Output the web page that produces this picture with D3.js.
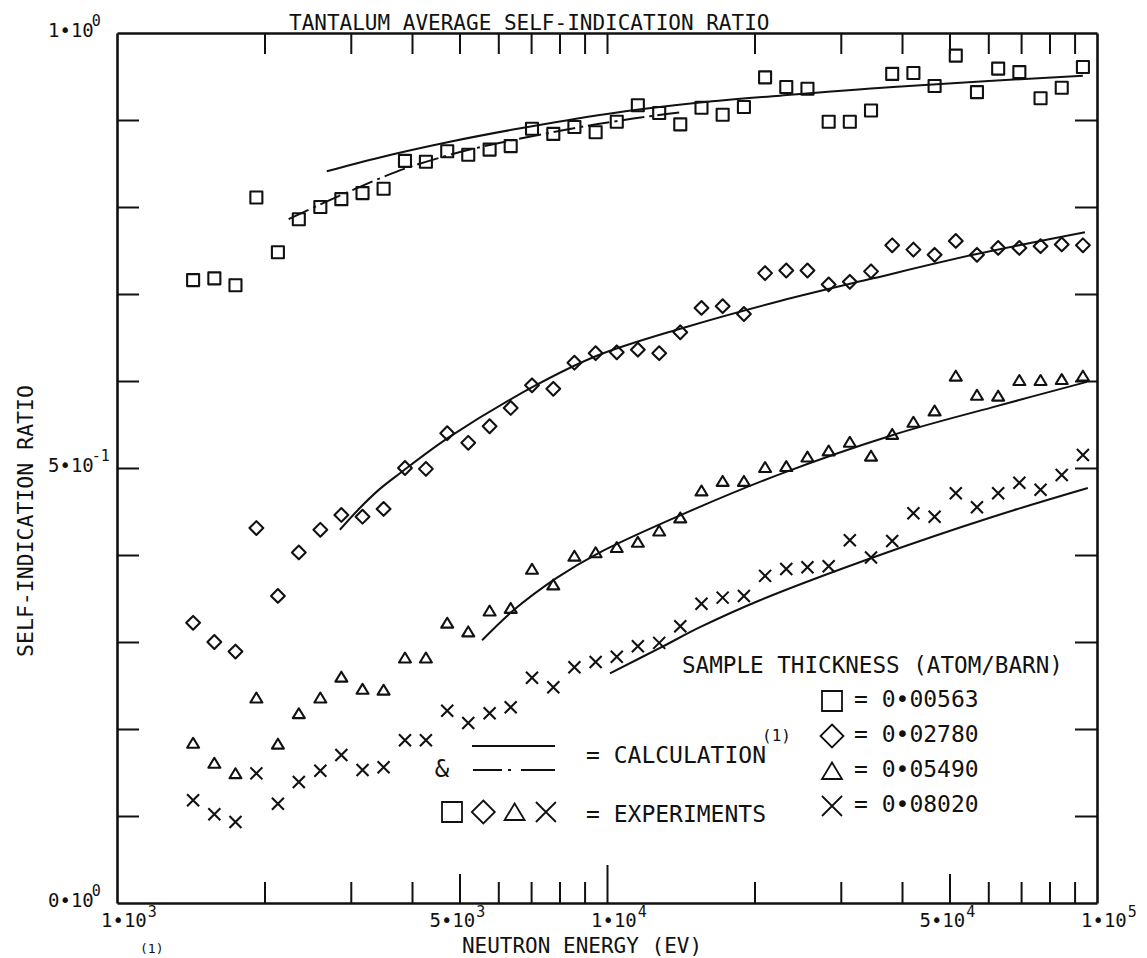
<!DOCTYPE html>
<html>
<head>
<meta charset="utf-8">
<script src="https://cdn.jsdelivr.net/npm/d3@7"></script>
<style>
  body { margin: 0; background: #fff; }
  svg text { font-family: "DejaVu Sans Mono", monospace; fill: #111; }
</style>
</head>
<body>
<div id="chart"></div>
<script>
var energy = [1430, 1580, 1745, 1925, 2130, 2350, 2600, 2870, 3170, 3500,
              3870, 4270, 4720, 5210, 5760, 6360, 7030, 7770, 8580, 9480,
              10470, 11560, 12780, 14110, 15590, 17220, 19030, 21020, 23220, 25650,
              28340, 31300, 34580, 38200, 42200, 46620, 51500, 56890, 62850, 69430,
              76700, 84730, 93600];

// experiments, one array per sample thickness
var squares = [0.716, 0.718, 0.710, 0.811, 0.748, 0.786, 0.800, 0.809, 0.816, 0.821,
               0.853, 0.852, 0.864, 0.860, 0.866, 0.870, 0.890, 0.884, 0.892, 0.886,
               0.898, 0.917, 0.908, 0.895, 0.914, 0.906, 0.915, 0.949, 0.938, 0.936,
               0.898, 0.898, 0.911, 0.953, 0.954, 0.939, 0.974, 0.932, 0.959, 0.955,
               0.925, 0.937, 0.961];
var diamonds = [0.322, 0.300, 0.289, 0.431, 0.353, 0.403, 0.429, 0.446, 0.444, 0.453,
                0.500, 0.499, 0.540, 0.529, 0.548, 0.569, 0.595, 0.591, 0.621, 0.632,
                0.633, 0.636, 0.632, 0.656, 0.684, 0.686, 0.677, 0.724, 0.727, 0.727,
                0.711, 0.714, 0.726, 0.756, 0.751, 0.745, 0.761, 0.745, 0.753, 0.753,
                0.755, 0.757, 0.756];
var triangles = [0.184, 0.161, 0.149, 0.236, 0.183, 0.218, 0.236, 0.260, 0.246, 0.245,
                 0.282, 0.282, 0.322, 0.312, 0.336, 0.339, 0.384, 0.366, 0.399, 0.403,
                 0.409, 0.415, 0.428, 0.443, 0.474, 0.485, 0.485, 0.501, 0.502, 0.513,
                 0.520, 0.530, 0.514, 0.539, 0.553, 0.566, 0.606, 0.584, 0.583, 0.601,
                 0.601, 0.602, 0.606];
var crosses = [0.118, 0.102, 0.093, 0.149, 0.114, 0.139, 0.152, 0.170, 0.153, 0.156,
               0.187, 0.187, 0.221, 0.207, 0.218, 0.225, 0.259, 0.248, 0.271, 0.277,
               0.283, 0.295, 0.299, 0.318, 0.344, 0.351, 0.353, 0.376, 0.384, 0.386,
               0.387, 0.417, 0.397, 0.416, 0.448, 0.444, 0.471, 0.455, 0.471, 0.483,
               0.475, 0.492, 0.515];

// calculations
var calcSqE = [2680, 3440, 4780, 6430, 10000, 15480, 22550, 38350, 93600],
    calcSq  = [0.841, 0.857, 0.875, 0.889, 0.907, 0.920, 0.928, 0.938, 0.951];
var calcSqAltE = [2240, 2600, 3440, 3910, 5250, 8640, 10530, 12890, 14290],
    calcSqAlt  = [0.786, 0.803, 0.833, 0.845, 0.866, 0.891, 0.899, 0.906, 0.909];
var calcDiE = [2850, 3130, 3440, 3780, 4780, 7100, 9540, 14290, 22550, 34910, 55830, 94500],
    calcDi  = [0.429, 0.454, 0.476, 0.494, 0.536, 0.594, 0.629, 0.661, 0.692, 0.718, 0.745, 0.771];
var calcTrE = [5560, 6460, 7910, 9590, 14290, 22550, 38350, 61340, 95400],
    calcTr  = [0.302, 0.337, 0.374, 0.402, 0.447, 0.493, 0.538, 0.570, 0.599];
var calcXE = [10140, 13010, 15480, 20520, 35230, 61340, 95800],
    calcX  = [0.264, 0.295, 0.317, 0.348, 0.398, 0.444, 0.477];

var thickness = [0.00563, 0.02780, 0.05490, 0.08020];

// tick labels
var xLabelVals = [1e3, 5e3, 1e4, 5e4, 1e5],
    xLabelMant = ["1", "5", "1", "5", "1"],
    xLabelExp  = ["3", "3", "4", "4", "5"];
var yLabelVals = [1, 0.5, 0],
    yLabelMant = ["1", "5", "0"],
    yLabelExp  = ["0", "-1", "0"];
var xMinor = [2e3, 3e3, 4e3, 6e3, 7e3, 8e3, 9e3, 2e4, 3e4, 4e4, 6e4, 7e4, 8e4, 9e4],
    xMid = [5e3, 5e4],
    xMajor = [1e4],
    yTicks = [0.1, 0.2, 0.3, 0.4, 0.5, 0.6, 0.7, 0.8, 0.9];

var width = 1147, height = 958, ink = "#111";

function translate(dx, dy){
    return "translate(" + dx + "," + dy + ")";
}

var x = d3.scaleLog().domain([1e3, 1e5]).range([117, 1097]);
var y = d3.scaleLinear().domain([0, 1]).range([903, 33]);

var svg = d3.select("#chart").append("svg")
    .attr("width", width)
    .attr("height", height);

svg.append("rect").attr("width", width).attr("height", height).attr("fill", "#fff");

function inkAxis(g, keepDomain){
    g.selectAll("line, path").attr("stroke", ink).attr("stroke-width", 2);
    g.selectAll("text").remove();
    if(!keepDomain) g.select(".domain").remove();
    else g.select(".domain").attr("stroke-width", 2.6);
}

// bottom axis, ticks point inward with three lengths
svg.append("g").attr("transform", translate(0, y(0)))
    .call(d3.axisBottom(x).tickValues(xMinor).tickSize(-21).tickSizeOuter(0))
    .call(inkAxis, true);
svg.append("g").attr("transform", translate(0, y(0)))
    .call(d3.axisBottom(x).tickValues(xMid).tickSize(-29))
    .call(inkAxis, false);
svg.append("g").attr("transform", translate(0, y(0)))
    .call(d3.axisBottom(x).tickValues(xMajor).tickSize(-38))
    .call(inkAxis, false);

// top axis
svg.append("g").attr("transform", translate(0, y(1)))
    .call(d3.axisTop(x).tickValues(xMinor.concat(xMid, xMajor)).tickSize(-21).tickSizeOuter(0))
    .call(inkAxis, true);

// left and right axes
svg.append("g").attr("transform", translate(x(1e3), 0))
    .call(d3.axisLeft(y).tickValues(yTicks).tickSize(-22).tickSizeOuter(0))
    .call(inkAxis, true);
svg.append("g").attr("transform", translate(x(1e5), 0))
    .call(d3.axisRight(y).tickValues(yTicks).tickSize(-22).tickSizeOuter(0))
    .call(inkAxis, true);

// tick labels with superscript exponents
var xl = svg.append("g").selectAll("text")
    .data(xLabelVals)
    .enter().append("text")
    .attr("x", function(d, i){ return x(d) - (xLabelMant[i] === "5" ? 30 : 16); })
    .attr("y", y(0) + 24)
    .attr("font-size", 19);
xl.append("tspan").text(function(d, i){ return xLabelMant[i] + "\u202210"; });
xl.append("tspan").attr("font-size", 15).attr("dy", -10).attr("dx", 1)
    .text(function(d, i){ return xLabelExp[i]; });

var yl = svg.append("g").selectAll("text")
    .data(yLabelVals)
    .enter().append("text")
    .attr("x", 48)
    .attr("y", function(d){ return y(d) + 4; })
    .attr("font-size", 19);
yl.append("tspan").text(function(d, i){ return yLabelMant[i] + "\u202210"; });
yl.append("tspan").attr("font-size", 15).attr("dy", -11).attr("dx", -2)
    .text(function(d, i){ return yLabelExp[i]; });

// titles
svg.append("text").attr("x", 289).attr("y", 30).attr("font-size", 21)
    .text("TANTALUM AVERAGE SELF-INDICATION RATIO");
svg.append("text").attr("x", 582).attr("y", 953).attr("font-size", 21)
    .attr("text-anchor", "middle")
    .text("NEUTRON ENERGY (EV)");
svg.append("text").attr("transform", translate(33, 521) + " rotate(-90)")
    .attr("font-size", 21.5).attr("text-anchor", "middle")
    .text("SELF-INDICATION RATIO");
svg.append("text").attr("x", 140).attr("y", 953).attr("font-size", 13).text("(1)");

// marker shapes
function markerPath(kind, r){
    if(kind === "square") return "M" + (-r) + "," + (-r) + "h" + 2*r + "v" + 2*r + "h" + (-2*r) + "Z";
    if(kind === "diamond") return "M0," + (-r*1.15) + "L" + r*1.15 + ",0L0," + r*1.15 + "L" + (-r*1.15) + ",0Z";
    if(kind === "triangle") return "M0," + (-r*0.85) + "L" + r + "," + r*0.8 + "L" + (-r) + "," + r*0.8 + "Z";
    return "M" + (-r) + "," + (-r) + "L" + r + "," + r + "M" + (-r) + "," + r + "L" + r + "," + (-r);
}

var series = [
    { kind: "square", vals: squares },
    { kind: "diamond", vals: diamonds },
    { kind: "triangle", vals: triangles },
    { kind: "cross", vals: crosses }
];

series.forEach(function(s){
    svg.append("g").selectAll("path")
        .data(d3.zip(energy, s.vals))
        .enter().append("path")
        .attr("transform", function(d){ return translate(x(d[0]), y(d[1])); })
        .attr("d", markerPath(s.kind, 6))
        .attr("fill", "none")
        .attr("stroke", ink)
        .attr("stroke-width", 2.1)
        .attr("stroke-linejoin", "round");
});

// calculation curves
var line = d3.line()
    .x(function(d){ return x(d[0]); })
    .y(function(d){ return y(d[1]); })
    .curve(d3.curveCatmullRom.alpha(0.5));

var curves = [
    { pts: d3.zip(calcSqE, calcSq), dash: null },
    { pts: d3.zip(calcSqAltE, calcSqAlt), dash: "22,5,3,5" },
    { pts: d3.zip(calcDiE, calcDi), dash: null },
    { pts: d3.zip(calcTrE, calcTr), dash: null },
    { pts: d3.zip(calcXE, calcX), dash: null }
];

svg.append("g").selectAll("path")
    .data(curves)
    .enter().append("path")
    .attr("d", function(d){ return line(d.pts); })
    .attr("fill", "none")
    .attr("stroke", ink)
    .attr("stroke-width", 2)
    .attr("stroke-dasharray", function(d){ return d.dash; });

// legend: calculation / experiments
var lg = svg.append("g");
lg.append("line").attr("x1", 472).attr("x2", 555).attr("y1", 746).attr("y2", 746)
    .attr("stroke", ink).attr("stroke-width", 2);
lg.append("line").attr("x1", 473).attr("x2", 555).attr("y1", 770).attr("y2", 770)
    .attr("stroke", ink).attr("stroke-width", 2).attr("stroke-dasharray", "29,6,3,10,40");
lg.append("text").attr("x", 442).attr("y", 777).attr("font-size", 24)
    .attr("text-anchor", "middle").text("&");
lg.append("text").attr("x", 586).attr("y", 763).attr("font-size", 23).text("= CALCULATION");
lg.append("text").attr("x", 762).attr("y", 741).attr("font-size", 16).text("(1)");
lg.selectAll(".sym")
    .data(series)
    .enter().append("path")
    .attr("class", "sym")
    .attr("transform", function(d, i){ return translate(452 + i * 31.3, 812); })
    .attr("d", function(d){ return markerPath(d.kind, 10); })
    .attr("fill", "none").attr("stroke", ink).attr("stroke-width", 1.8);
lg.append("text").attr("x", 586).attr("y", 822).attr("font-size", 23).text("= EXPERIMENTS");

// legend: sample thickness
var tg = svg.append("g");
tg.append("text").attr("x", 682).attr("y", 673).attr("font-size", 22.6)
    .text("SAMPLE THICKNESS (ATOM/BARN)");
var rows = tg.selectAll(".row")
    .data(thickness)
    .enter().append("g")
    .attr("class", "row")
    .attr("transform", function(d, i){ return translate(0, i * 35); });
rows.append("path")
    .attr("transform", translate(832, 701))
    .attr("d", function(d, i){ return markerPath(series[i].kind, 10); })
    .attr("fill", "none").attr("stroke", ink).attr("stroke-width", 1.8);
rows.append("text")
    .attr("x", 854).attr("y", 707).attr("font-size", 23)
    .text(function(d){ return "= " + d3.format(".5f")(d).replace(".", "\u2022"); });
</script>
</body>
</html>
